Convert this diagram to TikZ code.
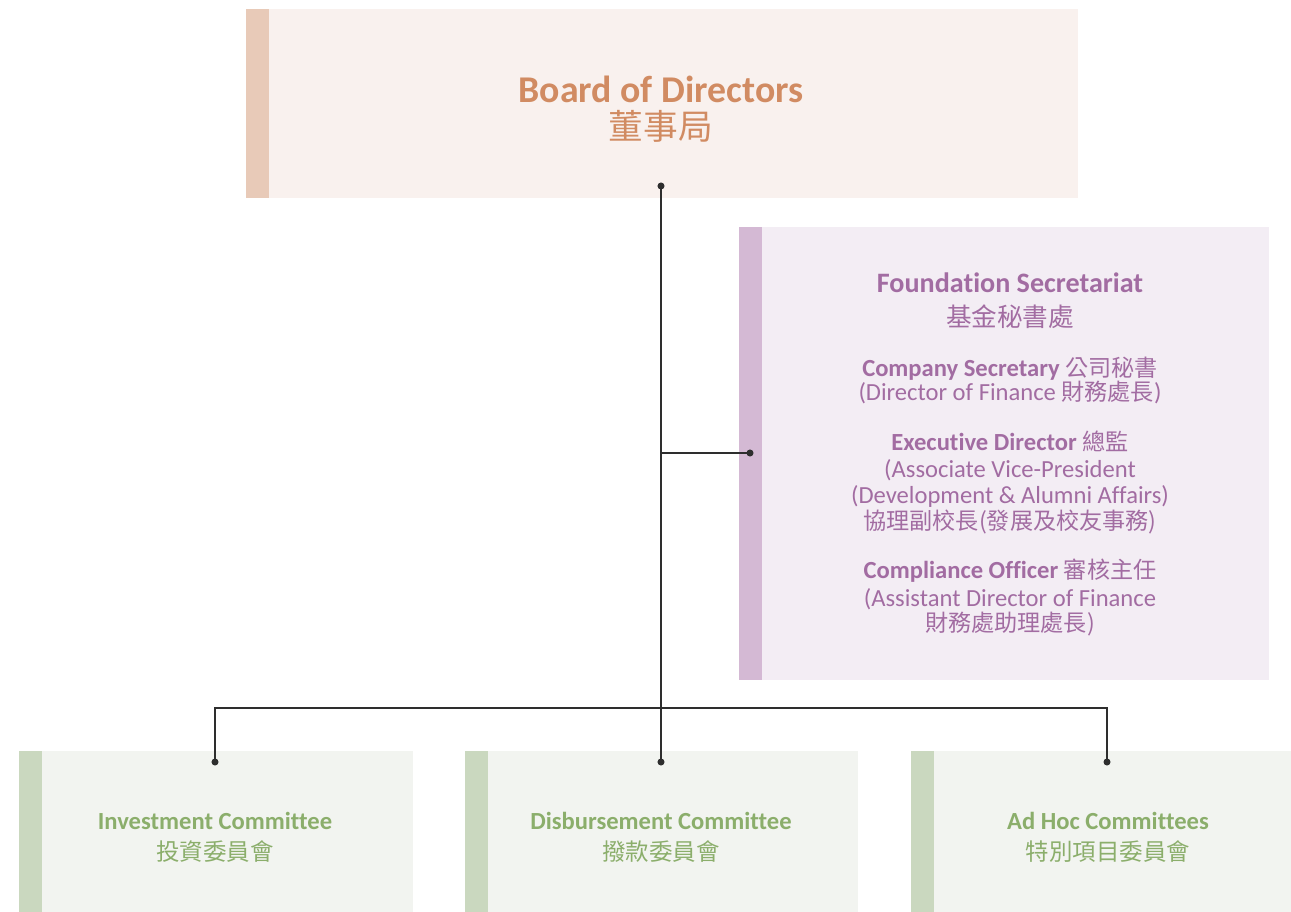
\documentclass[tikz,border=0pt]{standalone}
\usepackage{fontspec}
\setmainfont{Carlito}[Ligatures=NoCommon, Contextuals=NoAlternate]
\newfontfamily\cjk[Scale=0.94]{Noto Sans CJK TC}
\usetikzlibrary{calc}

\definecolor{bodfill}{HTML}{F9F1EE}
\definecolor{bodbar}{HTML}{E8CAB8}
\definecolor{bodtext}{HTML}{D18B62}
\definecolor{fsfill}{HTML}{F3EDF4}
\definecolor{fsbar}{HTML}{D4B9D4}
\definecolor{fstext}{HTML}{A26CA2}
\definecolor{cmfill}{HTML}{F2F4F0}
\definecolor{cmbar}{HTML}{CAD8BF}
\definecolor{cmtext}{HTML}{8BAE6B}
\definecolor{linec}{HTML}{2E2E2E}

\newcommand\zh[1]{{\cjk #1}}

\tikzset{
  box/.style={rectangle, draw=none, inner sep=0pt, outer sep=0pt, anchor=north west},
  line/.style={inner sep=0pt, anchor=base},
  conn/.style={draw=linec, line width=0.75pt},
  dotmark/.style={fill=linec},
}

\begin{document}
\begin{tikzpicture}[x=0.02cm, y=-0.02cm]
\useasboundingbox (0,0) rectangle (1291,912);

% ---- boxes ----
\node[box, fill=bodfill, minimum width=16.64cm, minimum height=3.78cm] (bod) at (246,9) {};
\fill[bodbar] (bod.north west) rectangle ($(bod.south west)+(23,0)$);

\node[box, fill=fsfill, minimum width=10.6cm, minimum height=9.06cm] (fs) at (739,227) {};
\fill[fsbar] (fs.north west) rectangle ($(fs.south west)+(23,0)$);

\node[box, fill=cmfill, minimum width=7.88cm, minimum height=3.22cm] (inv) at (19,751) {};
\fill[cmbar] (inv.north west) rectangle ($(inv.south west)+(23,0)$);

\node[box, fill=cmfill, minimum width=7.86cm, minimum height=3.22cm] (dis) at (465,751) {};
\fill[cmbar] (dis.north west) rectangle ($(dis.south west)+(23,0)$);

\node[box, fill=cmfill, minimum width=7.6cm, minimum height=3.22cm] (adh) at (911,751) {};
\fill[cmbar] (adh.north west) rectangle ($(adh.south west)+(23,0)$);

% ---- board text ----
\begin{scope}[every node/.style={line, text=bodtext}]
\node[font=\fontsize{21.5}{24}\selectfont\bfseries] (bodA) at (661,103) {Board of Directors};
\node[font=\fontsize{21}{24}\selectfont] (bodB) at (661,140) {\zh{董事局}};
\end{scope}

% ---- foundation secretariat text ----
\begin{scope}[every node/.style={line, text=fstext}]
\node[font=\fontsize{16}{18}\selectfont\bfseries] (fsA) at (1010,293) {Foundation Secretariat};
\node[font=\fontsize{15.5}{18}\selectfont] (fsB) at (1010,326) {\zh{基金秘書處}};
\node[font=\fontsize{14}{16}\selectfont] (fsC) at (1010,376) {\textbf{Company Secretary} \zh{公司秘書}};
\node[font=\fontsize{14}{16}\selectfont] (fsD) at (1010,400) {(Director of Finance \zh{財務處長})};
\node[font=\fontsize{14}{16}\selectfont] (fsE) at (1010,450) {\textbf{Executive Director} \zh{總監}};
\node[font=\fontsize{14}{16}\selectfont] (fsF) at (1010,477) {(Associate Vice-President};
\node[font=\fontsize{14}{16}\selectfont] (fsG) at (1010,503) {(Development \& Alumni Affairs)};
\node[font=\fontsize{14}{16}\selectfont] (fsH) at (1010,529) {\zh{協理副校長(發展及校友事務)}};
\node[font=\fontsize{14}{16}\selectfont] (fsI) at (1010,578) {\textbf{Compliance Officer} \zh{審核主任}};
\node[font=\fontsize{14}{16}\selectfont] (fsJ) at (1010,606) {(Assistant Director of Finance};
\node[font=\fontsize{14}{16}\selectfont] (fsK) at (1010,631) {\zh{財務處助理處長)}};
\end{scope}

% ---- committee text ----
\begin{scope}[every node/.style={line, text=cmtext}]
\node[font=\fontsize{14}{16}\selectfont\bfseries] (invA) at (215,829) {Investment Committee};
\node[font=\fontsize{14.2}{16}\selectfont] (invB) at (215,860) {\zh{投資委員會}};
\node[font=\fontsize{14}{16}\selectfont\bfseries] (disA) at (661,829) {Disbursement Committee};
\node[font=\fontsize{14.2}{16}\selectfont] (disB) at (661,860) {\zh{撥款委員會}};
\node[font=\fontsize{14}{16}\selectfont\bfseries] (adhA) at (1108,829) {Ad Hoc Committees};
\node[font=\fontsize{14.2}{16}\selectfont] (adhB) at (1108,860) {\zh{特別項目委員會}};
\end{scope}

% ---- connector end points ----
\coordinate (bodDot) at (661,186);
\coordinate (fsDot)  at (750,453);
\coordinate (invDot) at (215,762);
\coordinate (disDot) at (661,762);
\coordinate (adhDot) at (1107,762);
\coordinate (bus)    at (661,708);

% ---- connectors ----
\draw[conn] (bodDot) -- (disDot);
\draw[conn] (bodDot |- fsDot) -- (fsDot);
\draw[conn] (invDot) |- (bus) -| (adhDot);

\foreach \p in {bodDot, fsDot, invDot, disDot, adhDot}
  \fill[dotmark] (\p) circle[radius=2pt];
\end{tikzpicture}
\end{document}
